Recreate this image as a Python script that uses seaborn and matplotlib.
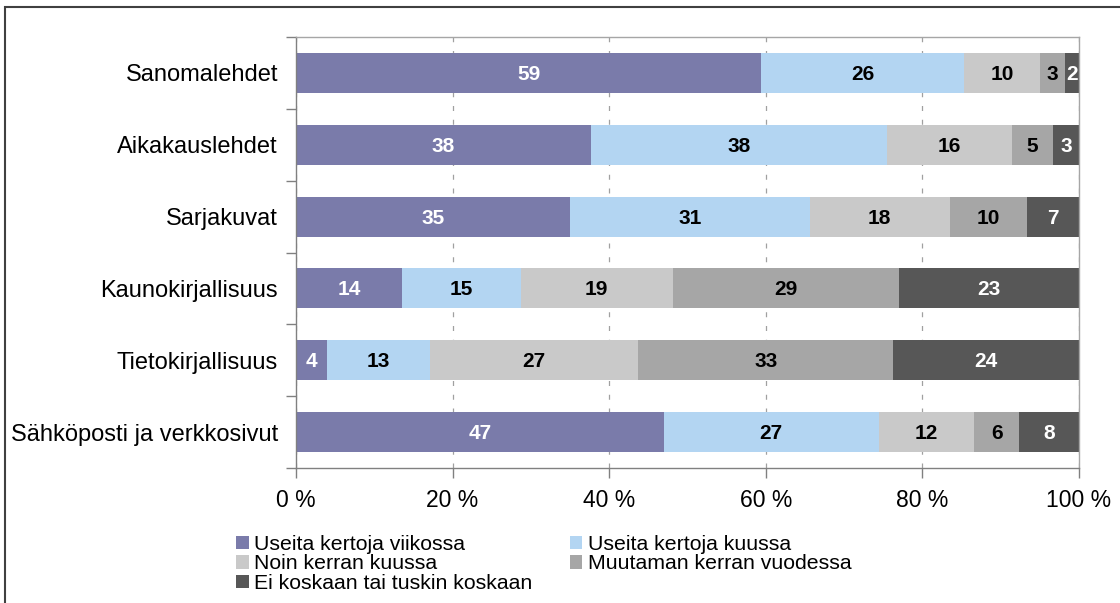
import numpy as np
import pandas as pd
import matplotlib
matplotlib.use("Agg")
import matplotlib.pyplot as plt
from matplotlib.patches import Patch, Rectangle
from matplotlib.ticker import FixedLocator
import seaborn as sns

# Shares (%); the printed labels are these rounded
categories = ["Sanomalehdet", "Aikakauslehdet", "Sarjakuvat",
              "Kaunokirjallisuus", "Tietokirjallisuus", "Sähköposti ja verkkosivut"]
series_names = ["Useita kertoja viikossa", "Useita kertoja kuussa", "Noin kerran kuussa",
                "Muutaman kerran vuodessa", "Ei koskaan tai tuskin koskaan"]
weekly = [59.4, 37.7, 35.0, 13.6, 4.0, 47.0]
monthly_several = [25.9, 37.8, 30.6, 15.1, 13.1, 27.4]
monthly_once = [9.7, 15.9, 17.9, 19.4, 26.6, 12.2]
yearly = [3.2, 5.3, 9.9, 28.9, 32.6, 5.8]
never = [1.8, 3.3, 6.6, 23.0, 23.7, 7.6]
x_ticks = [0, 20, 40, 60, 80, 100]

colors = ["#7A7BAA", "#B3D5F2", "#C9C9C9", "#A6A6A6", "#575757"]
label_colors = ["white", "black", "black", "black", "white"]

df = pd.DataFrame(dict(zip(series_names, [weekly, monthly_several, monthly_once, yearly, never])),
                  index=categories)
# 100 % stacked: scale every row to its total
pct = df.div(df.sum(axis=1), axis=0) * 100
cum = pct.cumsum(axis=1)
cum.index.name = "Kategoria"
cum_long = cum.reset_index()

sns.set_style("white")
plt.rcParams["font.family"] = ["Liberation Sans", "DejaVu Sans"]
plt.rcParams["text.color"] = "black"
plt.rcParams["xtick.color"] = "black"
plt.rcParams["ytick.color"] = "black"

fig = plt.figure(figsize=(11.2, 6.03), dpi=100)
ax = fig.add_axes([296 / 1120, 1 - 468 / 603, (1079 - 296) / 1120, (468 - 37) / 603])

# draw from the back: widest cumulative first
for i in reversed(range(len(series_names))):
    sns.barplot(data=cum_long, x=series_names[i], y="Kategoria", orient="h",
                color=colors[i], saturation=1, width=0.555, linewidth=0, ax=ax)

# segment labels
for i, name in enumerate(series_names):
    for j, cat in enumerate(categories):
        center = cum.loc[cat, name] - pct.loc[cat, name] / 2
        ax.text(center, j + 0.02, f"{df.loc[cat, name]:.0f}", ha="center", va="center",
                fontsize=15, fontweight="bold", color=label_colors[i], clip_on=True)

ax.set_xlim(0, 100)
ax.set_ylim(len(categories) - 0.5, -0.5)
ax.set_xlabel("")
ax.set_ylabel("")
ax.set_xticks(x_ticks)
ax.set_xticklabels([f"{t} %" for t in x_ticks], fontsize=16.5)
ax.set_yticks(range(len(categories)))
ax.set_yticklabels(categories, fontsize=17)
ax.yaxis.set_minor_locator(FixedLocator(np.arange(-0.5, len(categories), 1)))
ax.tick_params(axis="y", which="major", length=0, pad=13)
ax.tick_params(axis="y", which="minor", left=True, length=7, width=1, color="#808080")
ax.tick_params(axis="x", which="major", bottom=True, length=7, width=1, color="#808080", pad=8)

ax.grid(axis="x", color="#A0A0A0", linestyle=(0, (4, 7)), linewidth=0.9)
ax.set_axisbelow(True)
for side in ["left", "bottom"]:
    ax.spines[side].set_color("#808080")
    ax.spines[side].set_linewidth(1)
for side in ["top", "right"]:
    ax.spines[side].set_color("#A6A6A6")
    ax.spines[side].set_linewidth(1)

# legend laid out row by row like the original
order = [0, 2, 4, 1, 3]
handles = [Patch(facecolor=colors[k], edgecolor="none") for k in order]
labels = [series_names[k] for k in order]
fig.legend(handles, labels, loc="upper left", bbox_to_anchor=(236 / 1120, 1 - 535 / 603),
           ncol=2, frameon=False, fontsize=15.3, borderpad=0, borderaxespad=0,
           handlelength=0.6, handleheight=0.6, handletextpad=0.25,
           labelspacing=0.02, columnspacing=1.75)

# outer chart frame, cut off at right and bottom
fig.patches.append(Rectangle((5 / 1120, -0.05), 1.2, 1 - 7 / 603 + 0.05,
                             transform=fig.transFigure, fill=False,
                             edgecolor="#404040", linewidth=1.5))

fig.savefig("out.png", dpi=100)
